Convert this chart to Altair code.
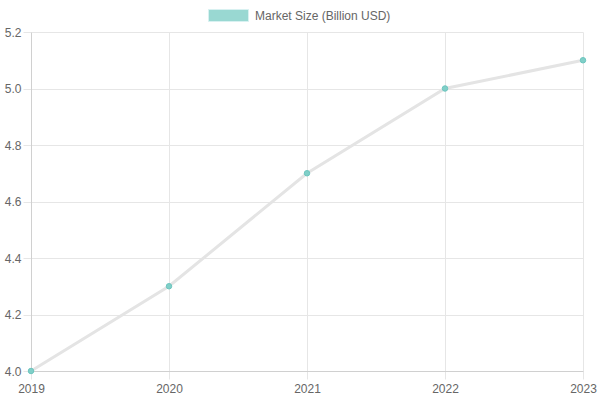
import altair as alt
import pandas as pd

years = ["2019", "2020", "2021", "2022", "2023"]
market_size = [4.0, 4.3, 4.7, 5.0, 5.1]
series_name = "Market Size (Billion USD)"
y_ticks = [4.0, 4.2, 4.4, 4.6, 4.8, 5.0, 5.2]

df = pd.DataFrame({"year": years, "value": market_size, "series": [series_name] * len(years)})

x_enc = alt.X("year:O", title=None, scale=alt.Scale(type="point", padding=0),
              axis=alt.Axis(labelAngle=0, grid=True, gridColor="#e6e6e6", domainColor="#d0d0d0",
                            tickColor="#e6e6e6", tickSize=8, labelPadding=4))
y_enc = alt.Y("value:Q", title=None, scale=alt.Scale(domain=[4.0, 5.2], nice=False, zero=False),
              axis=alt.Axis(values=y_ticks, format=".1f", grid=True, gridColor="#e6e6e6",
                            domainColor="#d0d0d0", tickColor="#e6e6e6", tickSize=8, labelPadding=2))

line = alt.Chart(df).mark_line(color="#e4e4e4", strokeWidth=3).encode(x=x_enc, y=y_enc)

points = alt.Chart(df).mark_point(filled=True, size=30, opacity=1, stroke="#6dc6bf", strokeWidth=1).encode(
    x=x_enc, y=y_enc,
    fill=alt.Fill("series:N", scale=alt.Scale(range=["#80cfc8"]),
                  legend=alt.Legend(title=None, orient="none", legendX=177, legendY=-37,
                                    symbolType="M-1,-0.3H1V0.3H-1Z", symbolSize=1600,
                                    symbolStrokeColor="#cfeeee",
                                    symbolStrokeWidth=1, symbolOpacity=0.8,
                                    labelFontSize=12, labelColor="#666666", labelFont="Liberation Sans",
                                    padding=0, symbolOffset=0, labelOffset=6)),
)

chart = alt.layer(line, points).properties(
    width=552, height=339,
    autosize=alt.AutoSizeParams(type="none"),
    padding={"left": 31, "top": 32, "right": 17, "bottom": 29},
).configure_axis(
    labelFont="Liberation Sans", labelFontSize=12, labelColor="#666666",
).configure_view(stroke=None)

chart.save("out.html", embed_options={"renderer": "svg", "actions": False})
